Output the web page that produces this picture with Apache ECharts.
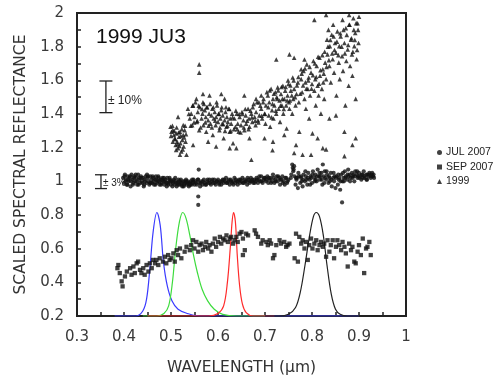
<!DOCTYPE html>
<html><head><meta charset="utf-8">
<script src="https://cdn.jsdelivr.net/npm/echarts@6/dist/echarts.min.js"></script>
<style>html,body{margin:0;padding:0;background:#fff}#c{width:500px;height:381px}</style>
</head><body><div id="c"></div>
<script>
// ---------- DATA ----------
const seriesNames = ['JUL 2007', 'SEP 2007', '1999'];
const chartLabel = '1999 JU3';
const xTitle = 'WAVELENGTH (μm)';
const yTitle = 'SCALED SPECTRAL REFLECTANCE';

// JUL 2007 : band near 1.0
const julData = [
[0.398,1.02],[0.400,0.99],[0.402,1.04],[0.404,1.01],[0.406,0.98],[0.408,1.03],[0.410,1.00],[0.412,1.02],[0.414,0.97],[0.416,1.04],
[0.418,1.01],[0.420,0.99],[0.422,1.03],[0.424,1.00],[0.426,1.02],[0.428,0.98],[0.430,1.04],[0.432,1.01],[0.434,0.99],[0.436,1.03],
[0.438,1.00],[0.440,1.02],[0.442,0.97],[0.444,1.01],[0.446,1.03],[0.448,0.99],[0.450,1.02],[0.452,1.00],[0.454,0.98],[0.456,1.03],
[0.458,1.01],[0.460,0.99],[0.462,1.02],[0.464,0.98],[0.466,1.01],[0.468,1.03],[0.470,0.99],[0.472,1.00],[0.474,1.02],[0.476,0.98],
[0.478,1.01],[0.480,0.99],[0.482,1.02],[0.484,1.00],[0.486,0.98],[0.488,1.01],[0.490,0.99],[0.492,1.02],[0.494,0.98],[0.496,1.00],
[0.498,1.01],[0.500,0.98],[0.502,1.00],[0.504,0.99],[0.506,1.01],[0.508,0.98],[0.510,1.00],[0.512,0.97],[0.514,0.99],[0.516,1.01],
[0.518,0.98],[0.520,1.00],[0.522,0.99],[0.524,0.97],[0.526,1.00],[0.528,0.98],[0.530,0.99],[0.532,1.01],[0.534,0.98],[0.536,1.00],
[0.538,0.97],[0.540,0.99],[0.542,1.00],[0.544,0.98],[0.546,0.99],[0.548,1.01],[0.550,0.98],
[0.403,1.00],[0.409,1.01],[0.415,1.00],[0.421,1.02],[0.427,1.00],[0.433,1.02],[0.439,0.99],[0.445,1.00],[0.451,1.03],[0.457,0.99],
[0.463,1.00],[0.469,1.01],[0.475,1.00],[0.481,1.01],[0.487,1.00],[0.493,0.99],[0.499,1.00],[0.505,1.00],[0.511,0.99],[0.517,1.00],
[0.523,0.98],[0.529,1.00],[0.535,0.99],[0.541,0.98],[0.547,1.00],
[0.401,1.03],[0.407,0.98],[0.413,1.03],[0.419,0.98],[0.425,1.04],[0.431,0.98],[0.437,1.02],[0.443,0.98],[0.449,1.04],[0.455,0.99],
[0.461,1.03],[0.467,0.98],[0.473,1.03],[0.479,0.98],[0.485,1.02],[0.491,0.97],[0.497,1.02],[0.503,0.97],[0.509,1.02],[0.515,0.98],
[0.521,1.01],[0.527,0.97],[0.533,1.00],[0.539,0.98],[0.545,1.01],
[0.552,1.00],[0.555,0.98],[0.557,1.01],[0.560,0.99],[0.562,0.97],[0.565,1.00],[0.567,0.98],[0.570,1.01],[0.572,0.99],[0.575,0.98],
[0.577,1.00],[0.580,0.99],[0.582,1.01],[0.585,0.98],[0.587,1.00],[0.590,0.99],[0.592,1.01],[0.595,0.98],[0.597,1.00],[0.600,1.01],
[0.602,0.99],[0.605,1.00],[0.607,0.98],[0.610,1.01],[0.612,0.99],[0.615,1.00],[0.617,1.02],[0.620,0.99],[0.622,1.00],[0.625,0.98],
[0.627,1.01],[0.630,0.99],[0.632,1.00],[0.635,1.02],[0.637,0.99],[0.640,1.00],[0.642,0.98],[0.645,1.01],[0.647,0.99],[0.650,1.00],
[0.652,1.02],[0.655,0.99],[0.657,1.01],[0.660,1.00],[0.662,0.98],[0.665,1.01],[0.667,0.99],[0.670,1.02],[0.672,1.00],[0.675,0.99],
[0.677,1.01],[0.680,1.00],[0.682,1.02],[0.685,0.99],[0.687,1.01],[0.690,1.00],[0.692,1.03],[0.695,0.99],[0.697,1.01],[0.700,1.02],
[0.702,1.00],[0.705,1.03],[0.707,0.99],[0.710,1.01],[0.712,1.02],[0.715,1.00],[0.717,1.04],[0.720,0.99],[0.722,1.01],[0.725,1.03],
[0.727,1.00],[0.730,1.02],[0.732,0.98],[0.735,1.01],[0.737,1.03],[0.740,1.00],[0.742,0.98],[0.745,1.02],[0.747,0.99],[0.750,1.01],
[0.553,0.99],[0.558,1.01],[0.563,0.99],[0.568,1.00],[0.573,0.98],[0.578,1.01],[0.583,0.99],[0.588,1.01],[0.593,0.99],[0.598,1.00],
[0.603,0.98],[0.608,1.00],[0.613,1.01],[0.618,0.99],[0.623,1.01],[0.628,1.00],[0.633,0.98],[0.638,1.01],[0.643,1.00],[0.648,1.01],
[0.653,0.99],[0.658,1.00],[0.663,1.02],[0.668,1.00],[0.673,1.01],[0.678,0.99],[0.683,1.01],[0.688,1.03],[0.693,1.00],[0.698,1.02],
[0.703,1.01],[0.708,1.02],[0.713,0.99],[0.718,1.02],[0.723,1.00],[0.728,1.03],[0.733,1.01],[0.738,0.99],[0.743,1.02],[0.748,1.00],
[0.755,1.02],[0.758,1.10],[0.759,1.08],[0.760,1.06],[0.761,1.07],[0.763,1.03],[0.765,0.98],[0.767,1.01],[0.770,0.96],[0.772,1.03],
[0.775,0.99],[0.777,1.02],[0.780,0.97],[0.782,1.04],[0.785,1.00],[0.787,1.03],[0.790,0.98],[0.792,1.05],[0.795,1.01],[0.797,1.03],
[0.800,0.99],[0.802,1.06],[0.805,1.02],[0.807,1.04],[0.810,1.00],[0.812,1.07],[0.815,1.03],[0.817,1.01],[0.820,1.05],[0.822,0.98],
[0.825,1.03],[0.827,1.06],[0.830,1.01],[0.832,1.04],[0.835,0.99],[0.837,1.02],[0.840,1.05],[0.842,0.97],[0.845,1.02],[0.847,1.00],
[0.850,0.96],[0.852,1.03],[0.855,0.98],[0.857,1.01],[0.860,0.95],[0.862,1.04],[0.865,1.00],[0.867,1.02],[0.870,1.06],[0.872,1.03],
[0.875,1.01],[0.877,1.07],[0.880,1.04],[0.882,1.02],[0.885,1.05],[0.887,1.03],[0.890,1.00],[0.892,1.06],[0.895,1.04],[0.897,1.02],
[0.900,1.05],[0.902,1.03],[0.905,1.01],[0.907,1.04],[0.910,1.06],[0.912,1.02],[0.915,1.04],[0.917,1.01],[0.920,1.03],[0.922,1.05],
[0.925,1.02],[0.927,1.04],[0.930,1.03],[0.932,1.02],
[0.768,1.02],[0.778,1.00],[0.788,1.01],[0.798,1.02],[0.808,1.01],[0.818,1.03],[0.828,1.02],[0.838,1.00],[0.848,1.03],[0.858,1.02],
[0.868,1.00],[0.878,1.03],[0.888,1.04],[0.898,1.03],[0.908,1.02],[0.918,1.04],[0.928,1.05],
[0.756,1.04],[0.762,1.09],[0.766,1.02],[0.771,1.05],[0.776,1.03],[0.781,1.01],[0.786,1.06],[0.791,1.02],[0.796,0.98],[0.801,1.04],
[0.806,1.00],[0.811,1.03],[0.816,1.05],[0.821,1.01],[0.826,0.99],[0.831,1.06],[0.836,1.03],[0.841,1.01],[0.846,1.05],[0.851,1.02],
[0.856,1.04],[0.861,1.00],[0.866,1.05],[0.871,1.02],[0.876,1.04],[0.881,1.00],[0.886,1.02],[0.891,1.03],[0.896,1.06],[0.901,1.02],
[0.906,1.04],[0.911,1.03],[0.916,1.01],[0.921,1.04],[0.926,1.03],[0.931,1.04],
[0.559,1.07],[0.558,0.91],[0.558,0.86],[0.864,0.875],[0.823,1.10]
];

// SEP 2007 : lower band 0.4 - 0.7
const sepData = [
[0.388,0.503],[0.391,0.455],[0.395,0.406],[0.397,0.376],[0.386,0.484],[0.402,0.435],[0.406,0.464],[0.413,0.484],[0.416,0.445],[0.420,0.494],
[0.423,0.455],[0.427,0.513],[0.430,0.523],[0.434,0.474],[0.437,0.455],[0.441,0.484],[0.444,0.445],[0.448,0.503],[0.452,0.464],[0.455,0.513],
[0.459,0.484],[0.462,0.533],[0.466,0.513],[0.469,0.533],[0.473,0.503],[0.476,0.543],[0.483,0.523],[0.487,0.552],[0.490,0.513],[0.494,0.562],
[0.497,0.533],[0.501,0.543],[0.505,0.572],[0.508,0.523],[0.512,0.591],[0.515,0.562],[0.519,0.601],[0.522,0.543],[0.529,0.582],[0.533,0.611],
[0.540,0.591],[0.543,0.621],[0.547,0.650],[0.550,0.601],[0.554,0.640],[0.558,0.582],[0.561,0.621],[0.565,0.630],[0.568,0.591],[0.572,0.611],
[0.575,0.640],[0.579,0.601],[0.582,0.621],[0.586,0.582],[0.589,0.630],[0.593,0.660],[0.596,0.611],[0.600,0.640],[0.604,0.670],[0.607,0.630],
[0.611,0.660],[0.614,0.650],[0.618,0.679],[0.621,0.640],[0.625,0.660],[0.628,0.670],[0.632,0.630],[0.635,0.650],[0.639,0.670],[0.642,0.640],
[0.646,0.689],[0.650,0.699],[0.653,0.660],[0.657,0.591],[0.653,0.562],[0.660,0.689],[0.664,0.679],[0.678,0.709],[0.681,0.689],[0.685,0.670],
[0.692,0.630],[0.695,0.650],[0.703,0.640],[0.706,0.621],[0.710,0.650],[0.713,0.630],[0.717,0.543],[0.720,0.562],[0.724,0.621],[0.731,0.650],
[0.734,0.630],[0.741,0.640],[0.745,0.611],[0.748,0.621],[0.752,0.630],[0.763,0.543],[0.766,0.689],[0.770,0.523],[0.773,0.670],[0.777,0.630],
[0.780,0.650],[0.784,0.601],[0.787,0.640],[0.791,0.533],[0.794,0.621],[0.798,0.660],[0.801,0.601],[0.805,0.630],[0.809,0.650],[0.812,0.591],
[0.816,0.621],[0.819,0.640],[0.823,0.611],[0.826,0.630],[0.830,0.552],[0.833,0.650],[0.837,0.582],[0.840,0.621],[0.844,0.650],[0.847,0.543],
[0.851,0.611],[0.854,0.650],[0.858,0.621],[0.862,0.591],[0.865,0.640],[0.869,0.611],[0.872,0.572],[0.876,0.494],[0.879,0.630],[0.883,0.591],
[0.886,0.611],[0.890,0.523],[0.893,0.513],[0.897,0.582],[0.900,0.621],[0.904,0.562],[0.908,0.660],[0.911,0.455],[0.915,0.601],[0.918,0.611],
[0.922,0.640],[0.925,0.562]
];

// 1999 : upper cloud
const y1999Data = [
[0.499,1.324],[0.501,1.295],[0.504,1.304],[0.506,1.275],[0.508,1.255],[0.510,1.216],[0.511,1.285],[0.513,1.236],[0.515,1.197],[0.517,1.265],
[0.519,1.295],[0.520,1.226],[0.522,1.177],[0.524,1.246],[0.526,1.275],[0.527,1.207],[0.529,1.304],[0.531,1.236],[0.533,1.158],[0.515,1.383],
[0.526,1.334],[0.504,1.236],[0.519,1.158],[0.511,1.187],
[0.536,1.431],[0.540,1.373],[0.543,1.402],[0.545,1.334],[0.547,1.451],[0.550,1.382],[0.554,1.490],[0.555,1.353],[0.557,1.412],[0.560,1.304],
[0.561,1.441],[0.565,1.373],[0.567,1.402],[0.568,1.470],[0.569,1.334],[0.572,1.422],[0.574,1.382],[0.575,1.295],[0.577,1.441],[0.579,1.363],
[0.581,1.402],[0.582,1.510],[0.584,1.343],[0.586,1.392],[0.588,1.431],[0.589,1.275],[0.591,1.373],[0.593,1.412],[0.595,1.334],[0.596,1.382],
[0.598,1.451],[0.600,1.353],[0.602,1.402],[0.603,1.304],[0.605,1.373],[0.607,1.422],[0.609,1.343],[0.610,1.392],[0.612,1.256],[0.614,1.363],
[0.616,1.412],[0.618,1.324],[0.619,1.382],[0.621,1.353],[0.623,1.431],[0.625,1.295],[0.626,1.373],[0.628,1.343],[0.630,1.402],[0.632,1.226],
[0.560,1.695],[0.560,1.646],[0.568,1.519],[0.607,1.519],[0.614,1.490],[0.547,1.216],[0.579,1.236],[0.596,1.207],[0.625,1.197],
[0.635,1.373],[0.637,1.324],[0.640,1.402],[0.642,1.343],[0.644,1.295],[0.646,1.382],[0.649,1.334],[0.651,1.412],[0.654,1.363],[0.656,1.304],
[0.659,1.392],[0.660,1.343],[0.664,1.431],[0.666,1.373],[0.667,1.324],[0.671,1.402],[0.673,1.353],[0.674,1.441],[0.678,1.382],[0.680,1.334],
[0.681,1.412],[0.685,1.363],[0.687,1.470],[0.688,1.392],[0.639,1.197],[0.667,1.256],[0.656,1.510],[0.681,1.490],[0.692,1.510],
[0.692,1.431],[0.694,1.373],[0.697,1.490],[0.699,1.402],[0.701,1.343],[0.702,1.451],[0.706,1.510],[0.708,1.392],[0.709,1.470],[0.711,1.324],
[0.713,1.549],[0.715,1.422],[0.717,1.490],[0.718,1.373],[0.720,1.451],[0.722,1.529],[0.724,1.402],[0.725,1.500],[0.727,1.558],[0.729,1.431],
[0.731,1.480],[0.732,1.353],[0.734,1.519],[0.736,1.451],[0.738,1.568],[0.739,1.402],[0.741,1.490],[0.743,1.539],[0.745,1.451],[0.746,1.314],
[0.748,1.510],[0.750,1.578],[0.752,1.431],[0.753,1.480],[0.755,1.539],[0.758,1.402],[0.759,1.617],[0.760,1.490],[0.762,1.549],[0.765,1.451],
[0.766,1.216],[0.767,1.519],[0.770,1.588],[0.772,1.470],[0.773,1.295],
[0.752,1.754],[0.762,1.734],[0.784,1.724],[0.777,1.666],[0.724,1.724],[0.699,1.256],[0.741,1.275],[0.717,1.236],[0.780,1.158],
[0.777,1.607],[0.779,1.529],[0.782,1.656],[0.784,1.490],[0.786,1.588],[0.787,1.431],[0.789,1.695],[0.791,1.549],[0.793,1.617],[0.794,1.373],
[0.796,1.510],[0.798,1.646],[0.800,1.578],[0.801,1.285],[0.803,1.715],[0.805,1.539],[0.807,1.607],[0.808,1.451],[0.810,1.685],[0.812,1.568],
[0.814,1.510],[0.816,1.734],[0.817,1.627],[0.819,1.402],[0.821,1.549],[0.823,1.666],[0.824,1.588],[0.826,1.490],[0.828,1.705],[0.830,1.607],
[0.812,1.256],[0.798,1.158],[0.823,1.197],
[0.832,1.842],[0.833,1.754],[0.835,1.900],[0.837,1.685],[0.838,1.803],[0.840,1.588],[0.842,1.871],[0.844,1.725],[0.845,1.930],[0.847,1.646],
[0.849,1.822],[0.851,1.764],[0.852,1.510],[0.854,1.891],[0.857,1.705],[0.858,1.803],[0.859,1.607],[0.861,1.861],[0.864,1.744],[0.865,1.959],
[0.866,1.656],[0.869,1.822],[0.871,1.451],[0.872,1.910],[0.873,1.715],[0.876,1.783],[0.878,1.568],[0.879,1.930],[0.881,1.685],[0.883,1.842],
[0.885,1.754],[0.886,1.627],[0.888,1.969],[0.890,1.803],[0.892,1.881],[0.893,1.490],[0.895,1.725],[0.897,1.939],[0.899,1.822],[0.900,1.978],
[0.837,1.373],[0.869,1.295],[0.886,1.216],[0.851,1.392],[0.893,1.256],
[0.671,1.128],[0.762,1.168],[0.869,1.150],[0.716,1.185],[0.830,1.190],[0.805,1.959],[0.830,1.988],[0.879,1.988],
[0.500,1.27],[0.503,1.33],[0.507,1.30],[0.509,1.25],[0.512,1.32],[0.514,1.22],[0.516,1.29],[0.518,1.21],[0.521,1.27],[0.523,1.31],
[0.525,1.19],[0.528,1.26],[0.530,1.33],[0.532,1.28],
[0.538,1.40],[0.542,1.33],[0.546,1.45],[0.549,1.35],[0.552,1.47],[0.556,1.36],[0.559,1.45],[0.563,1.32],[0.566,1.43],[0.570,1.46],
[0.573,1.35],[0.576,1.44],[0.580,1.33],[0.583,1.46],[0.587,1.32],[0.590,1.44],[0.594,1.36],[0.597,1.47],[0.601,1.40],[0.604,1.32],
[0.608,1.44],[0.611,1.34],[0.615,1.30],[0.617,1.44],[0.620,1.33],[0.624,1.43],[0.627,1.30],[0.631,1.38],[0.634,1.31],[0.638,1.42],
[0.641,1.31],[0.645,1.40],[0.648,1.29],[0.652,1.40],[0.655,1.32],[0.658,1.43],[0.662,1.36],[0.665,1.31],[0.669,1.42],[0.672,1.38],
[0.676,1.46],[0.679,1.36],[0.683,1.47],[0.686,1.35],[0.690,1.45],[0.693,1.39],[0.696,1.47],[0.700,1.40],[0.704,1.53],[0.707,1.44],
[0.710,1.54],[0.714,1.38],[0.716,1.46],[0.719,1.52],[0.723,1.42],[0.726,1.49],[0.728,1.54],[0.733,1.45],[0.735,1.56],[0.737,1.49],
[0.740,1.43],[0.744,1.56],[0.747,1.48],[0.749,1.60],[0.751,1.47],[0.754,1.57],[0.757,1.51],[0.761,1.60],[0.764,1.50],[0.768,1.57],
[0.771,1.62],[0.775,1.52],[0.778,1.64],[0.781,1.57],[0.785,1.67],[0.788,1.55],[0.792,1.60],[0.795,1.68],[0.799,1.55],[0.802,1.63],
[0.806,1.70],[0.809,1.62],[0.813,1.74],[0.815,1.58],[0.818,1.66],[0.822,1.75],[0.825,1.64],[0.827,1.77],[0.831,1.68],[0.834,1.80],
[0.836,1.72],[0.839,1.84],[0.843,1.76],[0.846,1.86],[0.848,1.78],[0.853,1.83],[0.856,1.75],[0.860,1.88],[0.863,1.80],[0.867,1.90],
[0.870,1.76],[0.874,1.87],[0.877,1.81],[0.880,1.93],[0.884,1.85],[0.887,1.77],[0.889,1.90],[0.891,1.84],[0.894,1.94],[0.896,1.78],
[0.898,1.90]
];

// filter transmission curves
const blueCurve = [[0.38,0.2],[0.425,0.2],[0.44,0.23],[0.448,0.30],[0.455,0.48],[0.462,0.70],[0.470,0.815],[0.477,0.74],[0.484,0.52],[0.492,0.38],[0.502,0.29],[0.515,0.24],[0.535,0.215],[0.56,0.2],[0.90,0.2]];
const greenCurve = [[0.44,0.2],[0.47,0.2],[0.485,0.215],[0.495,0.26],[0.503,0.40],[0.510,0.60],[0.518,0.76],[0.525,0.815],[0.532,0.78],[0.540,0.68],[0.548,0.56],[0.556,0.46],[0.566,0.36],[0.578,0.29],[0.592,0.24],[0.61,0.21],[0.64,0.2],[0.70,0.2]];
const redCurve = [[0.45,0.2],[0.58,0.2],[0.60,0.215],[0.612,0.26],[0.620,0.40],[0.626,0.60],[0.630,0.76],[0.633,0.815],[0.637,0.76],[0.641,0.56],[0.646,0.38],[0.652,0.27],[0.660,0.22],[0.675,0.2],[0.72,0.2]];
const blackCurve = [[0.70,0.2],[0.73,0.2],[0.75,0.21],[0.765,0.25],[0.775,0.34],[0.785,0.50],[0.795,0.68],[0.803,0.79],[0.809,0.815],[0.816,0.79],[0.824,0.68],[0.832,0.50],[0.841,0.33],[0.85,0.24],[0.86,0.21],[0.875,0.2],[0.90,0.2]];

// scale bars: [wavelength, low, high]
const errBars = [[0.3615,1.408,1.596],[0.351,0.957,1.039]];
const errLabels = ['± 10%', '± 3%'];

// ---------- CHART ----------
const AX = '#222';
const LBL = '#3a3a3a';
const chart = echarts.init(document.getElementById('c'), null, {renderer:'canvas'});
const errStyle = [{cap:6.5, font:12, dx:2, dy:4}, {cap:6, font:10, dx:2, dy:2}];

function lineSeries(data, color){
  return {type:'line', data, smooth:0.35, showSymbol:false, symbol:'none', silent:true, z:1,
    lineStyle:{color, width:1.2}, clip:true};
}

chart.setOption({
  animation:false,
  backgroundColor:'#fff',
  title:{text:chartLabel, left:96, top:27, padding:0,
    textStyle:{fontFamily:'Liberation Sans', fontSize:21, fontWeight:'normal', color:'#111'}},
  legend:{data:seriesNames, orient:'vertical', left:437, top:147, padding:0, itemGap:3.5,
    itemWidth:5, itemHeight:5, itemStyle:{color:'#111'},
    textStyle:{fontFamily:'Liberation Sans', fontSize:10.5, color:'#222', padding:[0,0,0,-1]}},
  grid:{left:77, right:94, top:13, bottom:61, show:true, borderColor:AX, borderWidth:2, backgroundColor:'transparent'},
  xAxis:{type:'value', min:0.3, max:1, interval:0.05,
    name:xTitle, nameLocation:'middle', nameGap:44,
    nameTextStyle:{fontFamily:'DejaVu Sans', fontSize:15.5, color:'#333'},
    axisLine:{show:true, lineStyle:{color:AX, width:2}},
    axisTick:{show:true, inside:true, length:4, lineStyle:{color:AX, width:1.5}},
    splitLine:{show:false},
    axisLabel:{interval:0, margin:14, fontFamily:'DejaVu Sans', fontSize:15, color:LBL,
      formatter:v=>{const k=Math.round(v*100); return k%10===0 ? String(k/100) : '';}}},
  yAxis:{type:'value', min:0.2, max:2, interval:0.1,
    name:yTitle, nameLocation:'middle', nameGap:36, nameRotate:90,
    nameTextStyle:{fontFamily:'DejaVu Sans', fontSize:15.5, color:'#333'},
    axisLine:{show:true, lineStyle:{color:AX, width:2}},
    axisTick:{show:true, inside:true, length:4, lineStyle:{color:AX, width:1.5}},
    splitLine:{show:false},
    axisLabel:{interval:0, margin:13, fontFamily:'DejaVu Sans', fontSize:15, color:LBL,
      formatter:v=>{const k=Math.round(v*10); return k%2===0 ? String(k/10) : '';}}},
  series:[
    lineSeries(blueCurve,'#3a3aff'),
    lineSeries(greenCurve,'#3ddc3d'),
    lineSeries(redCurve,'#ff2a2a'),
    lineSeries(blackCurve,'#222'),
    {name:seriesNames[0], type:'scatter', data:julData, symbol:'circle', symbolSize:4.2, z:3,
      itemStyle:{color:'#111'}, silent:true},
    {name:seriesNames[1], type:'scatter', data:sepData, symbol:'rect', symbolSize:4.3, z:3,
      itemStyle:{color:'#111'}, silent:true},
    {name:seriesNames[2], type:'scatter', data:y1999Data, symbol:'triangle', symbolSize:4.6, z:3,
      itemStyle:{color:'#111'}, silent:true},
    {type:'custom', data:errBars, silent:true, z:4, clip:false,
      encode:{x:0, y:[1,2]},
      renderItem:(params, api)=>{
        const i = params.dataIndex, s = errStyle[i];
        const top = api.coord([api.value(0), api.value(2)]);
        const bot = api.coord([api.value(0), api.value(1)]);
        const st = {stroke:'#222', lineWidth:1.3};
        return {type:'group', children:[
          {type:'line', shape:{x1:top[0], y1:top[1], x2:bot[0], y2:bot[1]}, style:st},
          {type:'line', shape:{x1:top[0]-s.cap, y1:top[1], x2:top[0]+s.cap, y2:top[1]}, style:st},
          {type:'line', shape:{x1:bot[0]-s.cap, y1:bot[1], x2:bot[0]+s.cap, y2:bot[1]}, style:st},
          {type:'text', style:{text:errLabels[i], x:top[0]+s.dx, y:(top[1]+bot[1])/2+s.dy,
            verticalAlign:'middle', align:'left', fill:'#222', fontFamily:'Liberation Sans', fontSize:s.font}}
        ]};
      }}
  ]
});
</script></body></html>
